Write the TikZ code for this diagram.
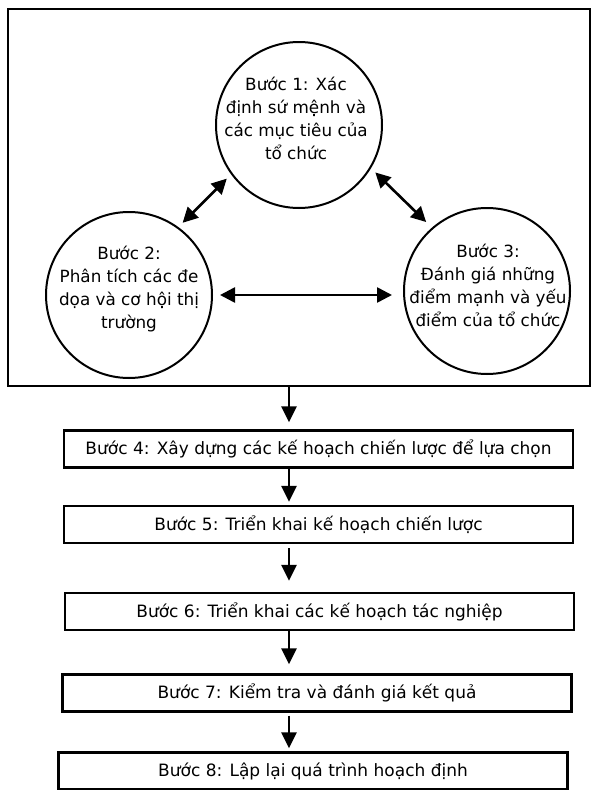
\documentclass[tikz,border=0pt]{standalone}
\usepackage{fontspec}
\setmainfont{DejaVu Sans}
\usetikzlibrary{arrows.meta}
\begin{document}
\begin{tikzpicture}[x=1pt,y=-1pt,
  stepcircle/.style={circle, draw, line width=2pt, minimum size=166pt, inner sep=0pt},
  circtext/.style={align=center, font=\fontsize{16.8}{23}\selectfont, inner sep=0pt},
  stepbox/.style={draw, line width=2.4pt, minimum width=509pt, minimum height=37pt,
    inner sep=0pt, font=\fontsize{17}{20}\selectfont},
  dbl/.style={line width=2.6pt, {Triangle[length=15pt,width=15pt]}-{Triangle[length=15pt,width=15pt]}},
  down/.style={line width=2.6pt, -{Triangle[length=16pt,width=15pt]}},
]
\useasboundingbox (0,0) rectangle (593,790);

% upper frame holding the three analysis steps
\node[draw, line width=2pt, minimum width=582pt, minimum height=377pt, inner sep=0pt]
  (frame) at (299,197.5) {};

% the three circles
\node[stepcircle] (c1) at (299,125) {};
\node[stepcircle] (c2) at (129,295) {};
\node[stepcircle] (c3) at (487,291) {};

\node[circtext] (t1) at (296,118) {Bước 1: Xác\\định sứ mệnh và\\các mục tiêu của\\tổ chức};
\node[circtext] (t2) at (129,289) {Bước 2:\\Phân tích các đe\\dọa và cơ hội thị\\trường};
\node[circtext] (t3) at (488,285) {Bước 3:\\Đánh giá những\\điểm mạnh và yếu\\điểm của tổ chức};

% two-way links between the circles
\draw[dbl, shorten <=6pt, shorten >=6pt] (c2.54) -- (c1.216);
\draw[dbl, shorten <=6pt, shorten >=8pt] (c1.329) -- (c3.131);
\draw[dbl, shorten <=7pt, shorten >=11pt] (c2.east) -- (c2.east -| c3.west);

% the chain of boxes below
\node[stepbox] (b4) at (318.5,449) {Bước 4: Xây dựng các kế hoạch chiến lược để lựa chọn};
\node[stepbox] (b5) at (318.5,524.5) {Bước 5: Triển khai kế hoạch chiến lược};
\node[stepbox] (b6) at (319.5,611.5) {Bước 6: Triển khai các kế hoạch tác nghiệp};
\node[stepbox] (b7) at (317,693) {Bước 7: Kiểm tra và đánh giá kết quả};
\node[stepbox] (b8) at (313,771) {Bước 8: Lập lại quá trình hoạch định};

\coordinate (ax) at (289,0);
\draw[down, shorten >=7pt] (frame.south -| ax) -- (b4.north -| ax);
\draw[down, shorten >=3pt] (b4.south -| ax) -- (b5.north -| ax);
\draw[down, shorten <=4pt, shorten >=11pt] (b5.south -| ax) -- (b6.north -| ax);
\draw[down, shorten >=9pt] (b6.south -| ax) -- (b7.north -| ax);
\draw[down, shorten <=3pt, shorten >=3pt] (b7.south -| ax) -- (b8.north -| ax);
\end{tikzpicture}
\end{document}
